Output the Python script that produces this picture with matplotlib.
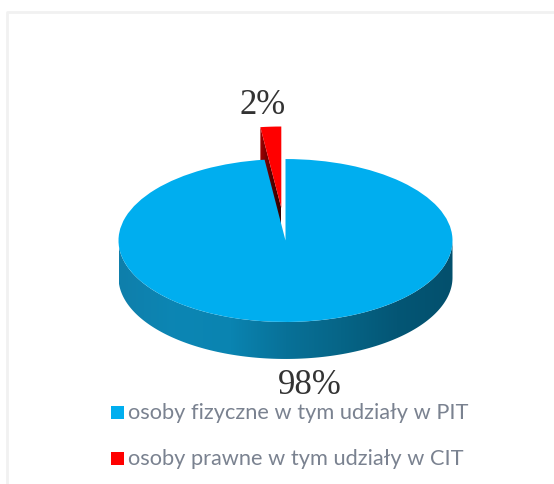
import numpy as np
from matplotlib import pyplot as plt
from matplotlib.colors import LinearSegmentedColormap
from matplotlib.patches import Polygon, Rectangle

labels = ["osoby fizyczne w tym udziały w PIT", "osoby prawne w tym udziały w CIT"]
shares = [98, 2]
share_labels = ["98%", "2%"]
colors = ["#00aeef", "#ff0000"]
pull_out = [0, 0.4]

W, H = 554, 485
SQUASH = 2.05  # pie is drawn round in data units, y axis squeezes it
CX, CY, R, DEPTH = 285.5, 241.5, 167, 37


def py(y):
    return (H - y) * SQUASH


fig = plt.figure(figsize=(W / 100, H / 100), dpi=100)
ax = fig.add_axes([0, 0, 1, 1])

# explode is in data units here, not a fraction of the radius
wedges, _ = ax.pie(shares, colors=colors, explode=[e * R for e in pull_out], radius=R,
                   center=(CX, py(CY)), startangle=90 - 360 * shares[0] / 100,
                   frame=True, wedgeprops={"linewidth": 0})
for w in wedges:
    w.set_zorder(4)

# side wall of the pie
t = np.linspace(np.pi, 2 * np.pi, 200)
xs = CX + R * np.cos(t)
ys_top = py(CY) + R * np.sin(t)
ys_bot = ys_top - DEPTH * SQUASH
wall = Polygon(np.r_[np.c_[xs, ys_top], np.c_[xs, ys_bot][::-1]], closed=True,
               fc="none", ec="none")
ax.add_patch(wall)
wall_cmap = LinearSegmentedColormap.from_list(
    "wall", ["#0f7fab", "#0c86b4", "#0a84b1", "#087198", "#066587", "#045675", "#03506d"])
grad = ax.imshow(np.linspace(0, 1, 256)[None, :], cmap=wall_cmap, aspect="auto",
                 extent=[CX - R, CX + R, py(CY + 130), py(CY - 20)], zorder=2)
grad.set_clip_path(wall)

# cut face of the pulled out slice, sits behind the red top
red = wedges[1]
ang = np.deg2rad(90 + 360 * shares[1] / 100)
apex = np.array(red.center)
rim = apex + R * np.array([np.cos(ang), np.sin(ang)])
drop = np.array([0, DEPTH * SQUASH])
face = Polygon([apex, rim, rim - drop, apex - drop], closed=True, fc="none", ec="none")
ax.add_patch(face)
face_cmap = LinearSegmentedColormap.from_list("face", ["#a00000", "#5a0000", "#300000"])
fg = ax.imshow(np.linspace(0, 1, 64)[None, :], cmap=face_cmap, aspect="auto",
               extent=[rim[0], apex[0], py(260), py(120)], zorder=3)
fg.set_clip_path(face)

ax.set_aspect("auto")
ax.set_xlim(0, W)
ax.set_ylim(0, H * SQUASH)
ax.axis("off")

# frame of the screenshot
ax.plot([7, 7, W], [py(H), py(13), py(13)], color="#f1f1f1", lw=2, zorder=1)

ax.text(263, py(105), share_labels[1], family="Liberation Serif", fontsize=25,
        color="#333333", ha="center", va="center", zorder=6)
ax.text(310, py(385), share_labels[0], family="Liberation Serif", fontsize=25,
        color="#333333", ha="center", va="center", zorder=6)

# legend written by hand to keep the odd spacing of the original
for lab, col, y in zip(labels, colors, [413, 459]):
    ax.add_patch(Rectangle((110.5, py(y + 6.5)), 13, 13 * SQUASH, fc=col, ec="none", zorder=6))
    ax.text(128, py(y), lab, family="Lato", fontsize=15.7, color="#7a8290",
            ha="left", va="center", zorder=6)

fig.savefig("out.png", dpi=100)
